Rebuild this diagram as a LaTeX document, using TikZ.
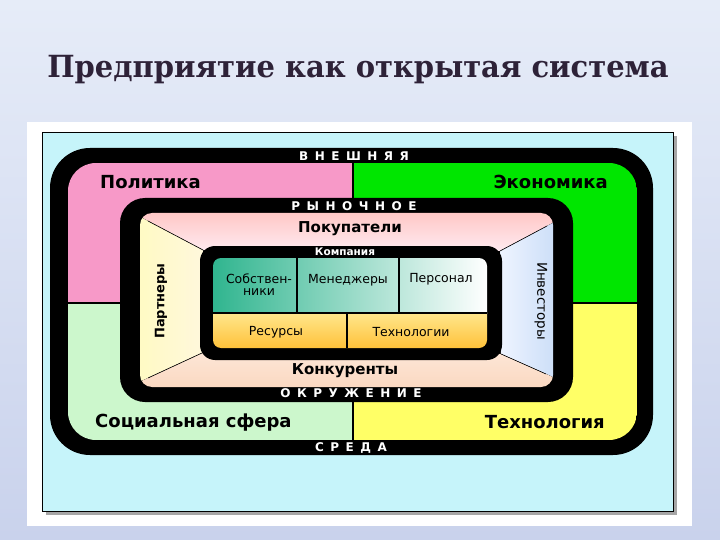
\documentclass[tikz,border=0pt]{standalone}
\usepackage{fontspec}
\setmainfont{DejaVu Sans}
\newfontfamily\titlefont{DejaVu Serif}
\usetikzlibrary{calc}

\definecolor{slidetop}{HTML}{E6ECF8}
\definecolor{slidebot}{HTML}{C9D2EC}
\definecolor{titlecol}{HTML}{2E2238}
\definecolor{panelcol}{HTML}{C6F4FA}
\definecolor{polcol}{HTML}{F799C8}
\definecolor{ecocol}{HTML}{00E600}
\definecolor{soccol}{HTML}{CCF7CC}
\definecolor{techcol}{HTML}{FFFF66}
\definecolor{buytop}{HTML}{FFA8A0}
\definecolor{buybot}{HTML}{FFEAF0}
\definecolor{partl}{HTML}{FFFCA8}
\definecolor{partr}{HTML}{FFF8DC}
\definecolor{invl}{HTML}{EEF4FF}
\definecolor{invr}{HTML}{A6C6F0}
\definecolor{comptop}{HTML}{FDE6D6}
\definecolor{compbot}{HTML}{F9CDB0}
\definecolor{tealcol}{HTML}{30B58F}
\definecolor{tealmid}{HTML}{A2DDCC}
\definecolor{restop}{HTML}{FFE68C}
\definecolor{resbot}{HTML}{FFC23A}

\newcommand{\wideskip}{\spaceskip 6.5pt\relax}

\begin{document}
\begin{tikzpicture}[x=1pt, y=-1pt,
    ringlbl/.style={text=white, inner sep=0pt, font=\bfseries\fontsize{12}{12}\selectfont\wideskip},
    zone/.style={inner sep=0pt, font=\bfseries\fontsize{18}{18}\selectfont},
    side/.style={inner sep=0pt, font=\bfseries\fontsize{15}{15}\selectfont},
    cell/.style={inner sep=0pt, align=center, font=\fontsize{12.5}{12}\selectfont},
    divline/.style={black, line width=1.2pt},
    diag/.style={black, line width=0.6pt}
]

\useasboundingbox (0,0) rectangle (720,540);
\fill[top color=slidetop, bottom color=slidebot] (0,0) rectangle (720,540);
\fill[white] (27,122) rectangle (692,526);
\fill[gray!70] (46,136) rectangle (677,515);
\fill[panelcol, draw=black, line width=0.8pt] (42,132) rectangle (673,511);

\node[font=\titlefont\bfseries\fontsize{30.5}{30}\selectfont, text=titlecol, anchor=base, xscale=0.95] (title) at (358,78) {Предприятие как открытая система};

\fill[black, rounded corners=40] (50,148) rectangle (653,455);
\begin{scope}
  \clip[rounded corners=28] (68,163) rectangle (637,440);
  \fill[polcol] (68,163) rectangle (353,303);
  \fill[ecocol] (353,163) rectangle (637,303);
  \fill[soccol] (68,303) rectangle (353,440);
  \fill[techcol] (353,303) rectangle (637,440);
\end{scope}
\draw[divline] (353,163) -- (353,440);
\draw[divline] (68,303) -- (637,303);

\fill[black, rounded corners=25] (120,198) rectangle (573,402);

\coordinate (mTL) at (148,221);
\coordinate (mTR) at (547,226);
\coordinate (mBR) at (546,374);
\coordinate (mBL) at (148,378);
\coordinate (cTL) at (203,250);
\coordinate (cTR) at (500,251);
\coordinate (cBR) at (501,354);
\coordinate (cBL) at (202,353);
\coordinate (eTL) at ($(cTL)!2.5!(mTL)$);
\coordinate (eTR) at ($(cTR)!2.5!(mTR)$);
\coordinate (eBR) at ($(cBR)!2.5!(mBR)$);
\coordinate (eBL) at ($(cBL)!2.5!(mBL)$);

\begin{scope}
  \clip[rounded corners=12] (140,213) rectangle (553,387);
  \fill[top color=buytop, bottom color=buybot] (eTL) -- (eTR) -- (cTR) -- (cTL) -- cycle;
  \fill[left color=partl, right color=partr] (eTL) -- (cTL) -- (cBL) -- (eBL) -- cycle;
  \fill[left color=invl, right color=invr] (eTR) -- (eBR) -- (cBR) -- (cTR) -- cycle;
  \fill[top color=comptop, bottom color=compbot] (eBL) -- (cBL) -- (cBR) -- (eBR) -- cycle;
\end{scope}
\draw[diag] (mTL) -- (cTL);
\draw[diag] (mTR) -- (cTR);
\draw[diag] (mBR) -- (cBR);
\draw[diag] (mBL) -- (cBL);

\fill[black, rounded corners=15] (200,246) rectangle (502,360);
\begin{scope}
  \clip[rounded corners=8] (213,258) rectangle (487,348);
  \fill[left color=tealcol, middle color=tealmid, right color=white] (213,258) rectangle (487,313);
  \fill[top color=restop, bottom color=resbot] (213,313) rectangle (487,348);
\end{scope}
\draw[divline] (213,313) -- (487,313);
\draw[divline] (297,258) -- (297,313);
\draw[divline] (399,258) -- (399,313);
\draw[divline] (347,313) -- (347,348);

\node[ringlbl] (outerlbl) at (354,156.5) {В Н Е Ш Н Я Я};
\node[ringlbl] (marketlbl) at (354,206.5) {Р Ы Н О Ч Н О Е};
\node[ringlbl] (envlbl) at (351,393.5) {О К Р У Ж Е Н И Е};
\node[ringlbl] (medlbl) at (351,447.5) {С Р Е Д А};

\node[zone, anchor=west] (politics) at (100,182) {Политика};
\node[zone, anchor=east] (economy) at (608,182) {Экономика};
\node[zone, anchor=west] (social) at (95,423) {Социальная сфера};
\node[zone, anchor=east] (technology) at (605,422) {Технология};

\node[side] (buyers) at (350,229) {Покупатели};
\node[side] (rivals) at (345,371) {Конкуренты};
\node[side, font=\bfseries\fontsize{13}{13}\selectfont, rotate=90] (partners) at (161,301) {Партнеры};
\node[side, font=\fontsize{13.5}{13.5}\selectfont, rotate=-90] (investors) at (541,301) {Инвесторы};

\node[ringlbl, font=\bfseries\fontsize{10.5}{10.5}\selectfont] (company) at (345,252) {Компания};
\node[cell] (owners) at (259,285) {Собствен-\\ники};
\node[cell] (managers) at (348,280) {Менеджеры};
\node[cell] (staff) at (441,279) {Персонал};
\node[cell] (resources) at (276,332) {Ресурсы};
\node[cell] (techs) at (411,332) {Технологии};

\end{tikzpicture}
\end{document}
